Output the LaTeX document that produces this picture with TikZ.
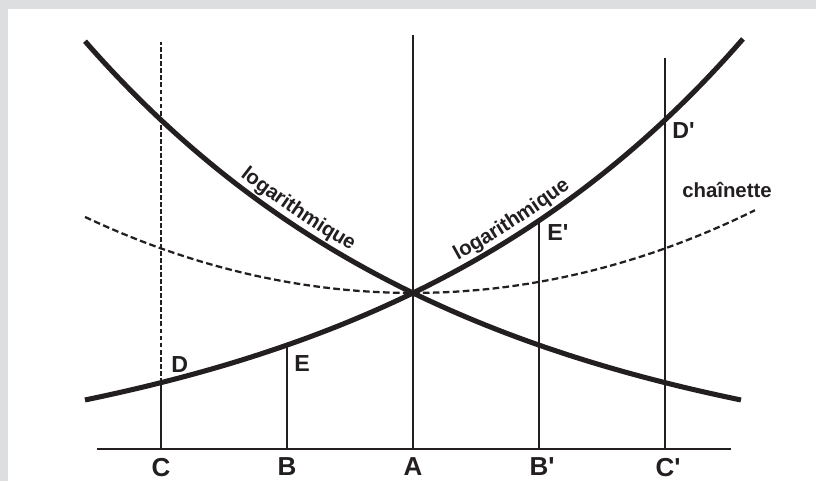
\documentclass[tikz,border=0pt]{standalone}
\usepackage{fontspec}
\setmainfont{Liberation Sans}[Ligatures=TeXOff]
\usepackage{tikz}
\usetikzlibrary{positioning, decorations.text, calc}
\definecolor{ink}{RGB}{35,31,32}
\definecolor{frame}{RGB}{220,222,224}
\newcommand{\curvefont}{\fontsize{14.5}{16}\selectfont\bfseries}
\tikzstyle{logcurve} = [draw=ink, line width=3.6pt]
\tikzstyle{vline} = [draw=ink, line width=1.4pt]
\tikzstyle{groundline} = [draw=ink, line width=1.6pt]
\tikzstyle{guide} = [draw=ink, line width=1.4pt, dash pattern=on 3.5pt off 1.5pt]
\tikzstyle{chainline} = [draw=ink, line width=1.6pt, dash pattern=on 4.7pt off 2.4pt]
\tikzstyle{axislabel} = [inner sep=0pt, text=ink, font=\fontsize{18.5}{20}\selectfont\bfseries]
\tikzstyle{ptlabel} = [inner sep=0pt, text=ink, font=\fontsize{16.5}{18}\selectfont\bfseries]
\tikzstyle{curvelabel} = [inner sep=0pt, text=ink, font=\curvefont]

\begin{document}
\begin{tikzpicture}[declare function={lg(\x)=-0.75+4.65*exp(0.1044*\x); ch(\x)=3.9+18*(cosh(\x/18)-1);}]
    \fill[frame] (-10.325,-0.8) rectangle (10.075,11.225);
    \fill[white] (-10.125,-0.8) rectangle (10.075,11.0);

    \coordinate (A) at (0,0);
    \coordinate (B) at (-3.15,0);
    \coordinate (C) at (-6.3,0);
    \coordinate (Bp) at (3.15,0);
    \coordinate (Cp) at (6.3,0);
    \coordinate (D) at (-6.3,{lg(-6.3)});
    \coordinate (E) at (-3.15,{lg(-3.15)});
    \coordinate (Ep) at (3.15,{lg(3.15)});
    \coordinate (Dp) at (6.3,{lg(6.3)});
    \coordinate (Atop) at (0,10.35);
    \coordinate (Ctop) at (-6.3,10.175);
    \coordinate (Cptop) at (6.3,9.775);
    \coordinate (groundW) at (-7.9,0);
    \coordinate (groundE) at (7.95,0);

    \draw[groundline] (groundW) -- (groundE);
    \draw[guide] (D) -- (Ctop);
    \draw[vline] (C) -- (D);
    \draw[vline] (B) -- (E);
    \draw[vline] (A) -- (Atop);
    \draw[vline] (Bp) -- (Ep);
    \draw[vline] (Cp) -- (Cptop);

    \draw[chainline] plot[domain=-8.2:8.55, samples=60] (\x,{ch(\x)});
    \draw[logcurve] plot[domain=-8.2:8.25, samples=80] (\x,{lg(\x)});
    \draw[logcurve] plot[domain=-8.2:8.2, samples=80] (\x,{lg(-\x)});

    \path[decorate, decoration={text along path, text={|\curvefont|logarithmique}, text color=ink, text align=center, raise=6pt}]
        plot[domain=-4.55:-1.55, samples=30] (\x,{lg(-\x)});
    \path[decorate, decoration={text along path, text={|\curvefont|logarithmique}, text color=ink, text align=center, raise=6pt}]
        plot[domain=1.14:4.14, samples=30] (\x,{lg(\x)});

    \node[axislabel, below=0.22cm of C] (labC) {C};
    \node[axislabel, below=0.22cm of B] (labB) {B};
    \node[axislabel, below=0.22cm of A] (labA) {A};
    \node[axislabel, below=0.22cm of Bp] (labBp) {B\rlap{'}};
    \node[axislabel, below=0.22cm of Cp] (labCp) {C\rlap{'}};

    \node[ptlabel, above right=0.25cm and 0.25cm of D] (labD) {D};
    \node[ptlabel, below right=0.25cm and 0.175cm of E] (labE) {E};
    \node[ptlabel, below right=0.09cm and 0.2cm of Ep] (labEp) {E'};
    \node[ptlabel, below right=0.05cm and 0.175cm of Dp] (labDp) {D'};

    \node[curvelabel] (labChain) at (7.85,6.475) {chaînette};
\end{tikzpicture}
\end{document}
